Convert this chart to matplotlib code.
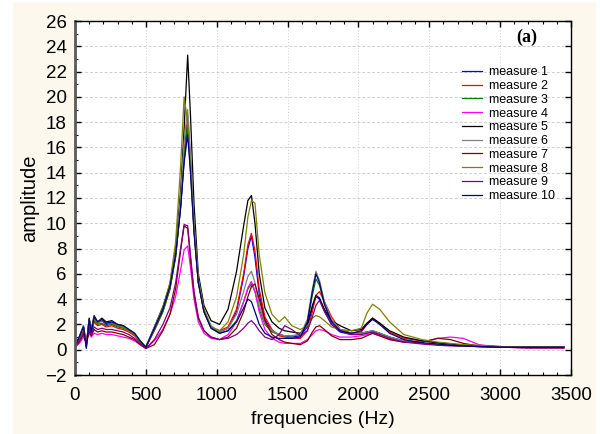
import numpy as np
import matplotlib
matplotlib.use("Agg")
from matplotlib import pyplot as plt
from matplotlib.patches import Rectangle
from matplotlib.ticker import MultipleLocator

# frequency grid (Hz) shared by all measures
freq = [0, 30, 60, 80, 100, 115, 135, 160, 190, 220,
        260, 300, 340, 380, 420, 460, 500, 560, 620, 670,
        710, 745, 770, 795, 815, 840, 870, 910, 960, 1020,
        1080, 1140, 1190, 1220, 1245, 1270, 1300, 1340, 1390, 1440,
        1480, 1530, 1590, 1640, 1675, 1700, 1725, 1760, 1810, 1870,
        1950, 2020, 2060, 2100, 2150, 2220, 2320, 2450, 2560, 2650,
        2740, 2850, 3000, 3200, 3450]

m1 = [0.3, 1.0, 1.8, 0.2, 2.4, 1.4, 2.5, 2.1, 2.3, 2.0,
      2.1, 1.9, 1.8, 1.5, 1.2, 0.6, 0.2, 1.6, 3.1, 4.9,
      7.4, 11.2, 15.0, 17.5, 14.5, 9.5, 5.4, 3.1, 1.8, 1.4,
      1.7, 3.0, 5.8, 8.0, 9.0, 7.3, 4.4, 2.4, 1.5, 1.2,
      1.1, 1.0, 1.1, 1.8, 3.3, 4.2, 4.0, 3.1, 2.0, 1.4,
      1.2, 1.3, 1.4, 1.5, 1.3, 1.0, 0.7, 0.5, 0.4, 0.35,
      0.3, 0.25, 0.2, 0.2, 0.2]
m2 = [0.2, 0.8, 1.5, 0.4, 2.0, 1.3, 2.2, 1.9, 2.0, 1.8,
      1.9, 1.7, 1.6, 1.4, 1.1, 0.6, 0.2, 1.5, 3.0, 4.8,
      7.5, 11.5, 15.5, 18.5, 15.0, 9.5, 5.3, 3.0, 1.8, 1.5,
      1.8, 3.2, 6.0, 8.3, 9.2, 7.8, 4.8, 2.6, 1.6, 1.1,
      1.0, 0.9, 0.9, 1.5, 3.0, 4.3, 4.6, 3.8, 2.6, 1.6,
      1.3, 1.4, 2.0, 2.5, 2.1, 1.4, 0.9, 0.7, 0.55, 0.45,
      0.35, 0.3, 0.25, 0.2, 0.2]
m3 = [0.3, 0.9, 1.7, 0.3, 2.2, 1.4, 2.3, 2.0, 2.1, 1.9,
      2.0, 1.8, 1.7, 1.5, 1.2, 0.6, 0.2, 1.6, 3.0, 4.8,
      7.3, 11.3, 15.3, 18.0, 14.8, 9.6, 5.4, 3.0, 1.7, 1.3,
      1.5, 2.3, 3.8, 4.8, 5.2, 4.6, 3.2, 2.0, 1.4, 1.2,
      1.1, 1.1, 1.2, 2.2, 4.3, 5.6, 5.1, 3.6, 2.3, 1.6,
      1.3, 1.3, 1.4, 1.4, 1.3, 1.0, 0.7, 0.5, 0.4, 0.35,
      0.3, 0.25, 0.2, 0.2, 0.2]
m4 = [0.2, 0.5, 1.0, 0.6, 1.3, 1.0, 1.3, 1.2, 1.3, 1.2,
      1.2, 1.1, 1.0, 0.9, 0.7, 0.4, 0.1, 0.7, 1.6, 2.8,
      4.2, 6.3, 7.9, 8.2, 6.5, 4.0, 2.2, 1.3, 0.9, 0.8,
      1.2, 2.2, 3.8, 4.9, 5.4, 4.6, 3.0, 1.6, 0.9, 0.6,
      0.5, 0.5, 0.5, 0.8, 1.2, 1.5, 1.6, 1.5, 1.2, 1.0,
      1.0, 1.1, 1.2, 1.3, 1.1, 0.8, 0.6, 0.6, 0.9, 1.0,
      0.9, 0.4, 0.2, 0.15, 0.15]
m5 = [0.3, 1.0, 1.9, 0.4, 2.5, 1.6, 2.7, 2.2, 2.5, 2.2,
      2.3, 2.0, 1.9, 1.6, 1.3, 0.7, 0.2, 1.8, 3.4, 5.2,
      8.0, 12.5, 17.5, 23.3, 18.5, 11.5, 6.0, 3.5, 2.3, 2.0,
      3.2, 6.2, 9.8, 11.8, 12.2, 10.0, 6.0, 3.3, 2.2, 1.7,
      1.5, 1.4, 1.3, 2.0, 3.5, 4.3, 4.1, 3.2, 2.3, 1.9,
      1.5, 1.6, 2.1, 2.5, 2.1, 1.5, 1.0, 0.7, 0.55, 0.45,
      0.35, 0.3, 0.25, 0.2, 0.2]
m6 = [0.3, 1.0, 1.9, 0.3, 2.4, 1.5, 2.6, 2.2, 2.4, 2.1,
      2.2, 2.0, 1.9, 1.6, 1.3, 0.7, 0.2, 1.8, 3.3, 5.0,
      7.8, 12.0, 16.5, 19.0, 15.5, 10.0, 5.6, 3.2, 1.9, 1.4,
      1.7, 2.8, 4.6, 5.8, 6.2, 5.3, 3.5, 2.1, 1.5, 1.2,
      1.1, 1.1, 1.2, 2.4, 4.8, 6.2, 5.5, 3.8, 2.4, 1.6,
      1.3, 1.3, 1.4, 1.5, 1.3, 1.0, 0.7, 0.5, 0.4, 0.35,
      0.3, 0.25, 0.2, 0.2, 0.2]
m7 = [0.2, 0.6, 1.2, 0.5, 1.5, 1.1, 1.6, 1.4, 1.5, 1.4,
      1.4, 1.3, 1.2, 1.0, 0.8, 0.4, 0.1, 0.4, 1.5, 2.8,
      4.8, 7.8, 9.8, 9.6, 7.2, 4.4, 2.5, 1.5, 1.0, 0.8,
      1.0, 1.7, 3.0, 4.2, 5.0, 5.2, 4.0, 2.3, 1.2, 0.8,
      0.6, 0.5, 0.4, 0.7, 1.4, 1.8, 1.9, 1.6, 1.1, 0.8,
      0.8, 0.9, 1.1, 1.3, 1.1, 0.8, 0.6, 0.6, 0.9, 0.8,
      0.5, 0.3, 0.2, 0.15, 0.15]
m8 = [0.3, 0.9, 1.7, 0.5, 2.3, 1.5, 2.5, 2.1, 2.3, 2.1,
      2.1, 1.9, 1.8, 1.5, 1.2, 0.6, 0.2, 1.7, 3.3, 5.3,
      8.5, 14.5, 20.0, 18.0, 14.0, 9.5, 5.6, 3.2, 1.8, 1.5,
      2.2, 4.2, 7.5, 10.5, 11.8, 11.6, 7.5, 4.5, 2.8, 2.2,
      2.6, 1.9, 1.6, 1.9, 2.5, 2.7, 2.6, 2.3, 1.8, 1.6,
      1.5, 1.7, 2.9, 3.6, 3.2, 2.2, 1.2, 0.8, 0.6, 0.5,
      0.4, 0.35, 0.25, 0.2, 0.2]
m9 = [0.2, 0.7, 1.3, 0.5, 1.7, 1.2, 1.8, 1.6, 1.7, 1.6,
      1.6, 1.5, 1.4, 1.2, 0.9, 0.5, 0.1, 0.8, 2.0, 3.3,
      5.3, 8.0, 9.9, 9.8, 7.5, 4.6, 2.6, 1.5, 1.0, 0.8,
      0.9, 1.2, 1.7, 2.1, 2.3, 2.0, 1.5, 1.0, 0.8, 1.2,
      1.9, 1.6, 1.1, 1.5, 2.6, 3.5, 3.9, 3.0, 2.0, 1.5,
      1.2, 1.2, 1.3, 1.4, 1.2, 0.9, 0.6, 0.45, 0.35, 0.3,
      0.3, 0.25, 0.2, 0.15, 0.15]
m10 = [0.3, 1.0, 1.8, 0.1, 2.4, 1.4, 2.6, 2.2, 2.4, 2.1,
       2.2, 2.0, 1.9, 1.6, 1.3, 0.7, 0.2, 1.7, 3.2, 5.0,
       7.5, 11.2, 14.8, 17.0, 14.0, 9.2, 5.3, 3.0, 1.7, 1.3,
       1.5, 2.2, 3.3, 4.0, 3.8, 3.0, 2.0, 1.3, 1.0, 0.9,
       0.9, 0.9, 1.0, 2.2, 4.6, 6.0, 5.3, 3.6, 2.2, 1.5,
       1.3, 1.5, 2.0, 2.4, 2.0, 1.3, 0.8, 0.55, 0.45, 0.35,
       0.3, 0.25, 0.2, 0.2, 0.2]

measures = [m1, m2, m3, m4, m5, m6, m7, m8, m9, m10]
labels = ["measure %d" % (i + 1) for i in range(10)]
colors = ["#0000ff", "#ff0000", "#008000", "#ff00ff", "#000000",
          "#808080", "#800000", "#808000", "#800080", "#000080"]

plt.rcParams["font.family"] = ["Liberation Sans", "DejaVu Sans"]

fig = plt.figure(figsize=(6.0, 4.34), dpi=100, facecolor="white")
# cream panel behind the plot
fig.patches.append(Rectangle((13 / 600, 0), 583 / 600, 432 / 434,
                             transform=fig.transFigure, facecolor="#fdf8ee",
                             edgecolor="none", zorder=-10))

ax = fig.add_axes([75 / 600, 59 / 434, 496 / 600, 354 / 434])
ax.set_facecolor("white")

for vals, lab, col in zip(measures, labels, colors):
    ax.plot(freq, vals, color=col, lw=0.9, label=lab)

ax.set_xlim(0, 3500)
ax.set_ylim(-2, 26)
ax.xaxis.set_major_locator(MultipleLocator(500))
ax.xaxis.set_minor_locator(MultipleLocator(100))
ax.yaxis.set_major_locator(MultipleLocator(2))
ax.yaxis.set_minor_locator(MultipleLocator(1))

ax.grid(True, which="major", axis="x", color="#cfcfcf", lw=0.7, ls=(0, (1, 2)))
ax.grid(True, which="major", axis="y", color="#cfcfcf", lw=0.7, ls=(0, (3, 2)))
ax.set_axisbelow(True)

ax.tick_params(axis="both", which="major", labelsize=13.5, direction="in",
               length=4, width=1, top=True, right=False)
ax.tick_params(axis="both", which="minor", direction="in", length=2.5,
               width=0.8, top=True, right=False)
ax.tick_params(axis="y", which="major", right=True, pad=6)
ax.tick_params(axis="x", pad=9)

for side in ["top", "right", "bottom"]:
    ax.spines[side].set_color("black")
    ax.spines[side].set_linewidth(1.0)
ax.spines["left"].set_color("#5a5a5a")
ax.spines["left"].set_linewidth(2.0)

ax.set_xlabel("frequencies (Hz)", fontsize=14, labelpad=5)
ax.set_ylabel("amplitude", fontsize=14.5, labelpad=4)

ax.text(0.91, 0.955, "(a)", transform=ax.transAxes, ha="center", va="center",
        fontsize=13, fontweight="bold", family=["Liberation Serif", "DejaVu Serif"])

ax.legend(loc="upper left", bbox_to_anchor=(0.78, 0.872), frameon=False,
          fontsize=9, handlelength=1.6, handletextpad=0.55, labelspacing=0.14,
          borderpad=0, borderaxespad=0)

fig.savefig("out.png", dpi=100, facecolor=fig.get_facecolor())
